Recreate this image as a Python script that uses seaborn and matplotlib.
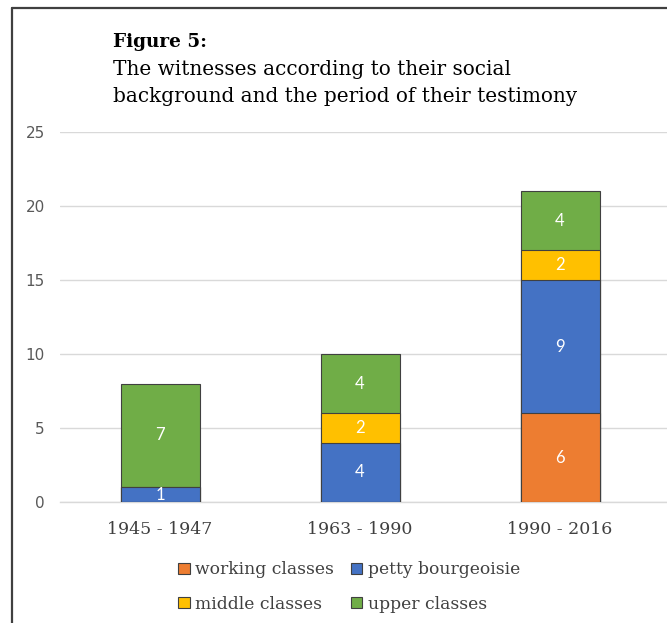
import matplotlib
matplotlib.use("Agg")
import matplotlib.pyplot as plt
from matplotlib.patches import Patch
from matplotlib.lines import Line2D
import numpy as np
import pandas as pd
import seaborn as sns

categories = ["1945 - 1947", "1963 - 1990", "1990 - 2016"]
working = [0, 0, 6]
petty = [1, 4, 9]
middle = [0, 2, 2]
upper = [7, 4, 4]
series_names = ["working classes", "petty bourgeoisie", "middle classes", "upper classes"]
colors = ["#ED7D31", "#4472C4", "#FFC000", "#70AD47"]
yticks = [0, 5, 10, 15, 20, 25]

sns.set_theme(style="white")
serif = ["DejaVu Serif"]
sans = ["DejaVu Sans"]
lab_sans = ["Lato", "DejaVu Sans"]

fig = plt.figure(figsize=(6.67, 6.23), dpi=100)
ax = fig.add_axes([60/667, 1-502/623, 1-60/667, (502-132)/623])

series = [working, petty, middle, upper]
cum = np.cumsum(np.array(series, dtype=float), axis=0)
edge = "#404040"
# draw tallest cumulative first, overlay lower ones
for i in range(len(series)-1, -1, -1):
    df = pd.DataFrame({"period": categories, "value": cum[i]})
    sns.barplot(data=df, x="period", y="value", color=colors[i], saturation=1,
                width=0.395, edgecolor=edge, linewidth=0.8, ax=ax, zorder=3)

# labels
for i, s in enumerate(series):
    for j, v in enumerate(s):
        if v > 0:
            bottom = cum[i][j] - v
            ax.text(j, bottom + v/2, str(v), ha="center", va="center",
                    color="white", fontsize=12, family=lab_sans, zorder=5)

ax.set_ylim(0, 25)
ax.set_xlim(-0.5, 2.535)
ax.set_yticks(yticks)
ax.yaxis.grid(True, color="#D9D9D9", linewidth=1)
ax.set_axisbelow(True)
for sp in ["top", "right", "left"]:
    ax.spines[sp].set_visible(False)
ax.spines["bottom"].set_color("#D9D9D9")
ax.spines["bottom"].set_linewidth(1)
ax.set_xlabel("")
ax.set_ylabel("")
ax.tick_params(axis="both", length=0)
ax.tick_params(axis="y", pad=11, labelcolor="#595959")
ax.tick_params(axis="x", pad=14, labelcolor="#404040")
for lab in ax.get_yticklabels():
    lab.set_family(sans)
    lab.set_fontsize(11)
for lab in ax.get_xticklabels():
    lab.set_family(serif)
    lab.set_fontsize(12.5)

# title
fig.text(113/667, 1-47/623, "Figure 5:", family=serif, fontsize=13.3, fontweight="bold",
         color="#000000", va="baseline", ha="left")
fig.text(113/667, 1-75/623, "The witnesses according to their social", family=serif,
         fontsize=14.4, color="#000000", va="baseline", ha="left")
fig.text(113/667, 1-102/623, "background and the period of their testimony", family=serif,
         fontsize=14.4, color="#000000", va="baseline", ha="left")

# legend
handles = [Patch(facecolor=colors[k], edgecolor=edge, linewidth=0.8, label=series_names[k])
           for k in range(4)]
order = [0, 2, 1, 3]
leg = fig.legend([handles[k] for k in order], [series_names[k] for k in order],
                 ncol=2, loc="center", bbox_to_anchor=(349/667, 1-587/623),
                 frameon=False, prop={"family": serif, "size": 12.3},
                 handlelength=0.68, handleheight=0.68, handletextpad=0.3,
                 columnspacing=1.0, labelspacing=1.0, borderaxespad=0)
for t in leg.get_texts():
    t.set_color("#404040")

# border of the chart frame
fig.add_artist(Line2D([12/667, 12/667], [0, 1-8/623], color="#404040", linewidth=1.6,
                      transform=fig.transFigure))
fig.add_artist(Line2D([12/667, 1], [1-8/623, 1-8/623], color="#404040", linewidth=1.6,
                      transform=fig.transFigure))

fig.savefig("out.png", dpi=100)
